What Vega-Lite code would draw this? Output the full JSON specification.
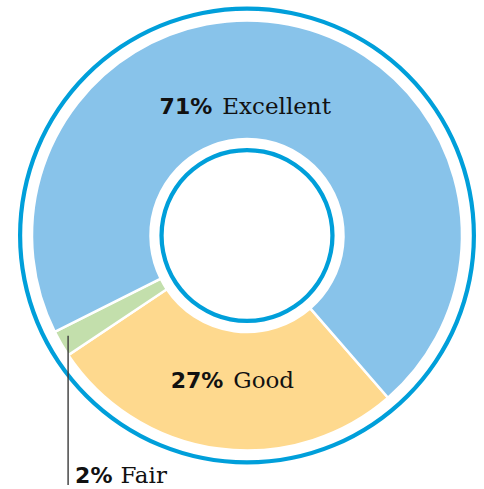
{
  "$schema": "https://vega.github.io/schema/vega-lite/v6.json",
  "width": 474,
  "height": 471,
  "autosize": "none",
  "padding": {"left": 10, "top": 0, "right": 0, "bottom": 18},
  "background": "white",
  "config": {"view": {"stroke": null}},
  "data": {
    "values": [
      {"category": "Good", "value": 0.27, "order": 1},
      {"category": "Fair", "value": 0.02, "order": 2},
      {"category": "Excellent", "value": 0.71, "order": 3}
    ]
  },
  "layer": [
    {
      "data": {"values": [{"ring": "outer"}]},
      "mark": {"type": "arc", "radius": 229, "radius2": 224.8, "theta": 0, "theta2": 6.2832, "fill": "#009FDA"},
      "encoding": {}
    },
    {
      "mark": {"type": "arc", "radius": 215, "radius2": 96.5, "stroke": "white", "strokeWidth": 2.5},
      "encoding": {
        "theta": {"field": "value", "type": "quantitative", "stack": true, "scale": {"range": [2.42601, 8.70919]}},
        "order": {"field": "order", "type": "quantitative"},
        "color": {"field": "category", "type": "nominal", "legend": null,
          "scale": {"domain": ["Excellent", "Good", "Fair"], "range": ["#88C3EA", "#FED98E", "#C3DFAC"]}}
      }
    },
    {
      "data": {"values": [{"ring": "inner"}]},
      "mark": {"type": "arc", "radius": 87.6, "radius2": 83.3, "theta": 0, "theta2": 6.2832, "fill": "#009FDA"},
      "encoding": {}
    },
    {
      "transform": [
        {"window": [{"op": "sum", "field": "value", "as": "cum"}], "sort": [{"field": "order"}], "frame": [null, 0]},
        {"filter": "datum.category === 'Fair'"},
        {"calculate": "(139 + (datum.cum - datum.value / 2) * 360) * PI / 180", "as": "ang"},
        {"calculate": "207 * sin(datum.ang)", "as": "lx"},
        {"calculate": "207 * cos(datum.ang) + 4", "as": "ly"}
      ],
      "mark": {"type": "rule", "stroke": "#3a3a3a", "strokeWidth": 1.4},
      "encoding": {
        "x": {"field": "lx", "type": "quantitative", "axis": null, "scale": {"domain": [-237, 237], "nice": false, "zero": false}},
        "y": {"field": "ly", "type": "quantitative", "axis": null, "scale": {"domain": [-235.5, 235.5], "nice": false, "zero": false}},
        "y2": {"datum": -249.5}
      }
    },
    {
      "mark": {"type": "text", "radius": 123.5, "align": "right", "baseline": "alphabetic", "dx": -58.7, "font": "DejaVu Sans", "fontWeight": "bold", "fontSize": 22, "fill": "#111111"},
      "encoding": {
        "theta": {"field": "value", "type": "quantitative", "stack": true},
        "order": {"field": "order", "type": "quantitative"},
        "detail": {"field": "category", "type": "nominal"},
        "text": {"field": "value", "type": "quantitative", "format": ".0%"},
        "opacity": {"condition": {"test": "datum.category === 'Excellent'", "value": 1}, "value": 0}
      }
    },
    {
      "mark": {"type": "text", "radius": 123.5, "align": "left", "baseline": "alphabetic", "dx": -48.7, "font": "DejaVu Serif", "fontSize": 23, "fill": "#111111"},
      "encoding": {
        "theta": {"field": "value", "type": "quantitative", "stack": true},
        "order": {"field": "order", "type": "quantitative"},
        "detail": {"field": "category", "type": "nominal"},
        "text": {"field": "category", "type": "nominal"},
        "opacity": {"condition": {"test": "datum.category === 'Excellent'", "value": 1}, "value": 0}
      }
    },
    {
      "mark": {"type": "text", "radius": 154.2, "align": "right", "baseline": "alphabetic", "dx": -3.3, "font": "DejaVu Sans", "fontWeight": "bold", "fontSize": 22, "fill": "#111111"},
      "encoding": {
        "theta": {"field": "value", "type": "quantitative", "stack": true},
        "order": {"field": "order", "type": "quantitative"},
        "detail": {"field": "category", "type": "nominal"},
        "text": {"field": "value", "type": "quantitative", "format": ".0%"},
        "opacity": {"condition": {"test": "datum.category === 'Good'", "value": 1}, "value": 0}
      }
    },
    {
      "mark": {"type": "text", "radius": 154.2, "align": "left", "baseline": "alphabetic", "dx": 6.7, "font": "DejaVu Serif", "fontSize": 23, "fill": "#111111"},
      "encoding": {
        "theta": {"field": "value", "type": "quantitative", "stack": true},
        "order": {"field": "order", "type": "quantitative"},
        "detail": {"field": "category", "type": "nominal"},
        "text": {"field": "category", "type": "nominal"},
        "opacity": {"condition": {"test": "datum.category === 'Good'", "value": 1}, "value": 0}
      }
    },
    {
      "mark": {"type": "text", "radius": 220, "align": "right", "baseline": "alphabetic", "dx": 55.6, "dy": 137.2, "font": "DejaVu Sans", "fontWeight": "bold", "fontSize": 22, "fill": "#111111"},
      "encoding": {
        "theta": {"field": "value", "type": "quantitative", "stack": true},
        "order": {"field": "order", "type": "quantitative"},
        "detail": {"field": "category", "type": "nominal"},
        "text": {"field": "value", "type": "quantitative", "format": ".0%"},
        "opacity": {"condition": {"test": "datum.category === 'Fair'", "value": 1}, "value": 0}
      }
    },
    {
      "mark": {"type": "text", "radius": 220, "align": "left", "baseline": "alphabetic", "dx": 63.6, "dy": 137.2, "font": "DejaVu Serif", "fontSize": 23, "fill": "#111111"},
      "encoding": {
        "theta": {"field": "value", "type": "quantitative", "stack": true},
        "order": {"field": "order", "type": "quantitative"},
        "detail": {"field": "category", "type": "nominal"},
        "text": {"field": "category", "type": "nominal"},
        "opacity": {"condition": {"test": "datum.category === 'Fair'", "value": 1}, "value": 0}
      }
    }
  ]
}
